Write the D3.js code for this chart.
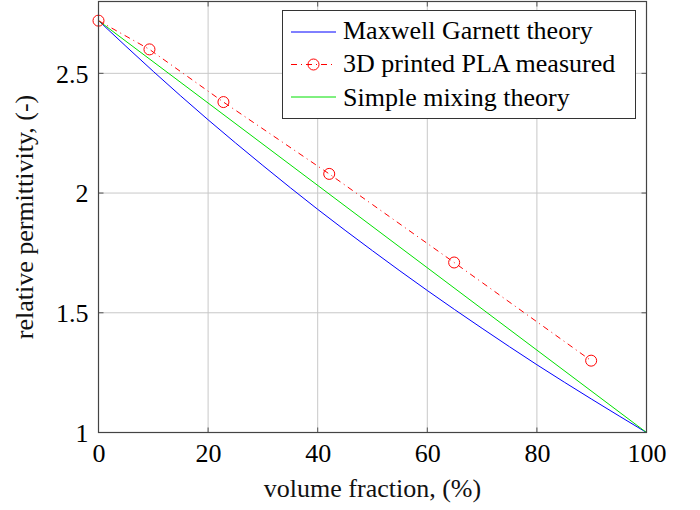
<!DOCTYPE html>
<html><head><meta charset="utf-8">
<script src="https://cdn.jsdelivr.net/npm/d3@7"></script>
<style>body{margin:0;background:#fff}svg{display:block}</style>
</head><body><svg id="c" width="700" height="510"></svg>
<script>
// Data
const mgFraction = [0,10,20,30,40,50,60,70,80,90,100];
const mgValues   = [2.72,2.508,2.306,2.115,1.932,1.759,1.593,1.435,1.283,1.139,1.0];
const measFraction = [0,9.3,22.8,42.1,64.9,89.9];
const measValues   = [2.72,2.60,2.38,2.08,1.71,1.30];
const mixFraction = [0,100];
const mixValues   = [2.72,1.0];
const xTicks = [0,20,40,60,80,100];
const yTicks = [1,1.5,2,2.5];
const seriesNames = ["Maxwell Garnett theory","3D printed PLA measured","Simple mixing theory"];

const FONT = "Liberation Serif";
const FS = "26px";
const svg = d3.select("#c");
const L=98.5, R=646.5, T=1.5, B=432.5;
const x = d3.scaleLinear().domain([0,100]).range([L,R]);
const y = d3.scaleLinear().domain([1,2.8]).range([B,T]);

// grid
const g = svg.append("g");
g.selectAll(".gx").data(xTicks).join("line")
  .attr("x1",d=>x(d)).attr("x2",d=>x(d)).attr("y1",T).attr("y2",B)
  .attr("stroke","#c8c8c8").attr("stroke-width",1);
g.selectAll(".gy").data(yTicks).join("line")
  .attr("y1",d=>y(d)).attr("y2",d=>y(d)).attr("x1",L).attr("x2",R)
  .attr("stroke","#c8c8c8").attr("stroke-width",1);

// ticks (inward, all sides)
const tk=5, tc="#555";
[B,T].forEach((yy,i)=>{
  g.selectAll(null).data(xTicks).join("line")
   .attr("x1",d=>x(d)).attr("x2",d=>x(d)).attr("y1",yy).attr("y2",i===0?yy-tk:yy+tk)
   .attr("stroke",tc).attr("stroke-width",1);
});
[L,R].forEach((xx,i)=>{
  g.selectAll(null).data(yTicks).join("line")
   .attr("y1",d=>y(d)).attr("y2",d=>y(d)).attr("x1",xx).attr("x2",i===0?xx+tk:xx-tk)
   .attr("stroke",tc).attr("stroke-width",1);
});

// axes labels via d3 axes
const xAxis = svg.append("g").attr("transform",`translate(0,${B})`)
  .call(d3.axisBottom(x).tickValues(xTicks).tickSize(0).tickPadding(11).tickFormat(d3.format("d")));
const yAxis = svg.append("g").attr("transform",`translate(${L},0)`)
  .call(d3.axisLeft(y).tickValues(yTicks).tickSize(0).tickPadding(10).tickFormat(d=>String(d)));
[xAxis,yAxis].forEach(a=>{a.select(".domain").remove();
  a.attr("font-family",FONT).attr("font-size",FS);
  a.selectAll("text").style("font-family",FONT).style("font-size",FS).attr("fill","#000");});
xAxis.selectAll("text").attr("dy","0.71em");
yAxis.selectAll("text").attr("dy","0.34em");

const line = d3.line().x(d=>x(d[0])).y(d=>y(d[1]));
// Maxwell Garnett
svg.append("path").datum(d3.zip(mgFraction,mgValues)).attr("d",line.curve(d3.curveMonotoneX))
  .attr("fill","none").attr("stroke","#0000ff").attr("stroke-width",1);
line.curve(d3.curveLinear);
// Simple mixing
svg.append("path").datum(d3.zip(mixFraction,mixValues)).attr("d",line)
  .attr("fill","none").attr("stroke","#00e000").attr("stroke-width",1);
// Measured
const md = d3.zip(measFraction,measValues);
svg.append("path").datum(md).attr("d",line)
  .attr("fill","none").attr("stroke","#ff0000").attr("stroke-width",1)
  .attr("stroke-dasharray","6 4 1 4");
svg.selectAll(".pt").data(md).join("circle")
  .attr("cx",d=>x(d[0])).attr("cy",d=>y(d[1])).attr("r",5.5)
  .attr("fill","none").attr("stroke","#ff0000").attr("stroke-width",1);

// frame
svg.append("rect").attr("x",L).attr("y",T).attr("width",R-L).attr("height",B-T)
  .attr("fill","none").attr("stroke","#444").attr("stroke-width",1.2);

// axis titles
svg.append("text").attr("x",(L+R)/2).attr("y",497).attr("text-anchor","middle")
  .style("font-family",FONT).style("font-size",FS).attr("fill","#111").text("volume fraction, (%)");
svg.append("text").attr("transform",`translate(33,${(T+B)/2}) rotate(-90)`).attr("text-anchor","middle")
  .style("font-family",FONT).style("font-size",FS).attr("fill","#111").text("relative permittivity, (-)");

// legend
const lg = svg.append("g");
lg.append("rect").attr("x",282.5).attr("y",10.5).attr("width",353).attr("height",108)
  .attr("fill","#fff").attr("stroke","#333").attr("stroke-width",1);
const rows=[32,64.5,97];
const colors=["#0000ff","#ff0000","#00e000"];
seriesNames.forEach((n,i)=>{
  const yy=rows[i];
  lg.append("line").attr("x1",291).attr("x2",336).attr("y1",yy).attr("y2",yy)
    .attr("stroke",colors[i]).attr("stroke-width",1)
    .attr("stroke-dasharray",i===1?"6 4 1 4":null);
  if(i===1) lg.append("circle").attr("cx",313.5).attr("cy",yy).attr("r",5.5)
    .attr("fill","none").attr("stroke","#ff0000").attr("stroke-width",1);
  lg.append("text").attr("x",343).attr("y",[39,72,105.5][i])
    .style("font-family",FONT).style("font-size",FS).text(n);
});
</script></body></html>
